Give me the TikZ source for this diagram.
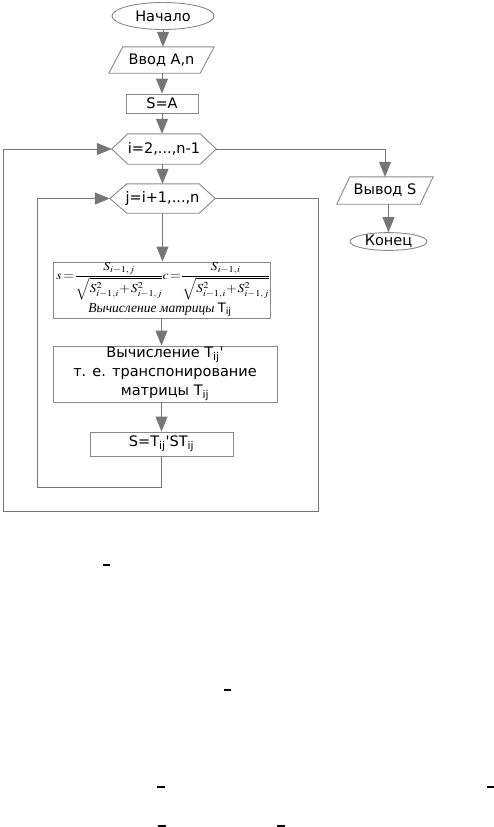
\documentclass[tikz,border=0pt]{standalone}
\usepackage{mathptmx}
\usepackage[no-math]{fontspec}
\setmainfont{DejaVu Sans}
\newfontfamily\serifit{Liberation Serif}
\usetikzlibrary{arrows.meta,shapes.geometric}
\definecolor{ln}{HTML}{767676}
\definecolor{bd}{HTML}{888888}
\tikzset{
  txt/.style={font=\fontsize{14.5}{19}\selectfont, text=black},
  term/.style={ellipse, draw=bd, line width=0.9pt, inner sep=0pt, txt},
  box/.style={rectangle, draw=bd, line width=0.9pt, inner sep=0pt, txt, align=center},
  frame/.style={rectangle, draw=none, inner sep=0pt, txt},
  outline/.style={draw=bd, line width=0.9pt},
  arr/.style={draw=ln, line width=1pt, -{Triangle[length=15pt,width=12pt]}},
  stray/.style={draw=black, line width=1.2pt},
}
\newcommand{\tightmath}{\thickmuskip=2mu\medmuskip=1mu\thinmuskip=1mu\scriptspace=0pt\nulldelimiterspace=0pt}
\begin{document}
\begin{tikzpicture}[x=1pt,y=-1pt]
\useasboundingbox (0,0) rectangle (494,827);
% nodes
\node[term, minimum width=102, minimum height=27] (start) at (163,16) {Начало};
\node[frame, minimum width=105, minimum height=26] (inp) at (161.5,60) {Ввод A,n};
\draw[outline] ([xshift=14pt]inp.north west) -- (inp.north east) -- ([xshift=-14pt]inp.south east) -- (inp.south west) -- cycle;
\node[box, minimum width=72, minimum height=19] (sa) at (162,103.5) {S=A};
\node[frame, minimum width=104, minimum height=30] (ihex) at (164,149) {i=2,...,n-1};
\draw[outline] (ihex.west) -- ([xshift=16pt]ihex.north west) -- ([xshift=-16pt]ihex.north east) -- (ihex.east) -- ([xshift=-16pt]ihex.south east) -- ([xshift=16pt]ihex.south west) -- cycle;
\node[frame, minimum width=105, minimum height=29] (jhex) at (162.5,198.5) {j=i+1,...,n};
\draw[outline] (jhex.west) -- ([xshift=17pt]jhex.north west) -- ([xshift=-16pt]jhex.north east) -- (jhex.east) -- ([xshift=-16pt]jhex.south east) -- ([xshift=17pt]jhex.south west) -- cycle;
\node[frame, minimum width=96, minimum height=27] (out) at (385,190.5) {Вывод S};
\draw[outline] ([xshift=13pt]out.north west) -- (out.north east) -- ([xshift=-13pt]out.south east) -- (out.south west) -- cycle;
\node[term, minimum width=77, minimum height=16] (end) at (388.5,241.5) {Конец};
\node[box, minimum width=217, minimum height=56] (f1) at (161.5,290) {};
\node[inner sep=0pt] (f1math) at (162.5,281.5) {\resizebox*{212pt}{38pt}{\fontsize{15}{18}\selectfont\tightmath$\displaystyle s=\frac{S_{i-1,\,j}}{\sqrt{S^2_{i-1,\,i}+S^2_{i-1,\,j}}}\,c=\frac{S_{i-1,\,i}}{\sqrt{S^2_{i-1,\,i}+S^2_{i-1,\,j}}}$}};
\node[inner sep=0pt, anchor=base] (f1text) at (160,312) {\fontsize{13.5}{16}\selectfont\serifit\itshape Вычисление матрицы \normalfont\fontsize{13}{16}\selectfont T\textsubscript{ij}};
\node[box, minimum width=224, minimum height=56] (f2) at (165,374) {Вычисление T\textsubscript{ij}\textquotesingle\\т. е. транспонирование\\матрицы T\textsubscript{ij}};
\node[box, minimum width=143, minimum height=24] (f3) at (161.5,444) {S=T\textsubscript{ij}\textquotesingle ST\textsubscript{ij}};
% loop corners
\coordinate (c1) at (37,487);
\coordinate (c2) at (318,511);
\coordinate (c3) at (3,511);
% connectors
\draw[arr] (start) -- (start|-inp.north);
\draw[arr] (inp.south-|sa) -- (sa);
\draw[arr] (sa.south) -- (sa.south|-ihex.north);
\draw[arr] (ihex.south-|jhex) -- (jhex.north);
\draw[arr] (jhex.south) -- (jhex.south|-f1.north);
\draw[arr] (f1.south-|f3) -- (f3.south|-f2.north);
\draw[arr] (f2.south-|f3) -- (f3.north);
\draw[arr] (f3.south) |- (c1) |- (jhex.west);
\draw[arr] (jhex.east) -| (c2) -- (c3) |- (ihex.west);
\draw[arr] (ihex.east) -| (out.north);
\draw[arr] (out.south-|end) -- (end.north);
% stray marks
\draw[stray] (103,565) -- (110,565);
\draw[stray] (224,690) -- (231,690);
\draw[stray] (157,787) -- (165,787);
\draw[stray] (487,787) -- (494,787);
\draw[stray] (158,826) -- (166,826);
\draw[stray] (277,826) -- (285,826);
\end{tikzpicture}
\end{document}
